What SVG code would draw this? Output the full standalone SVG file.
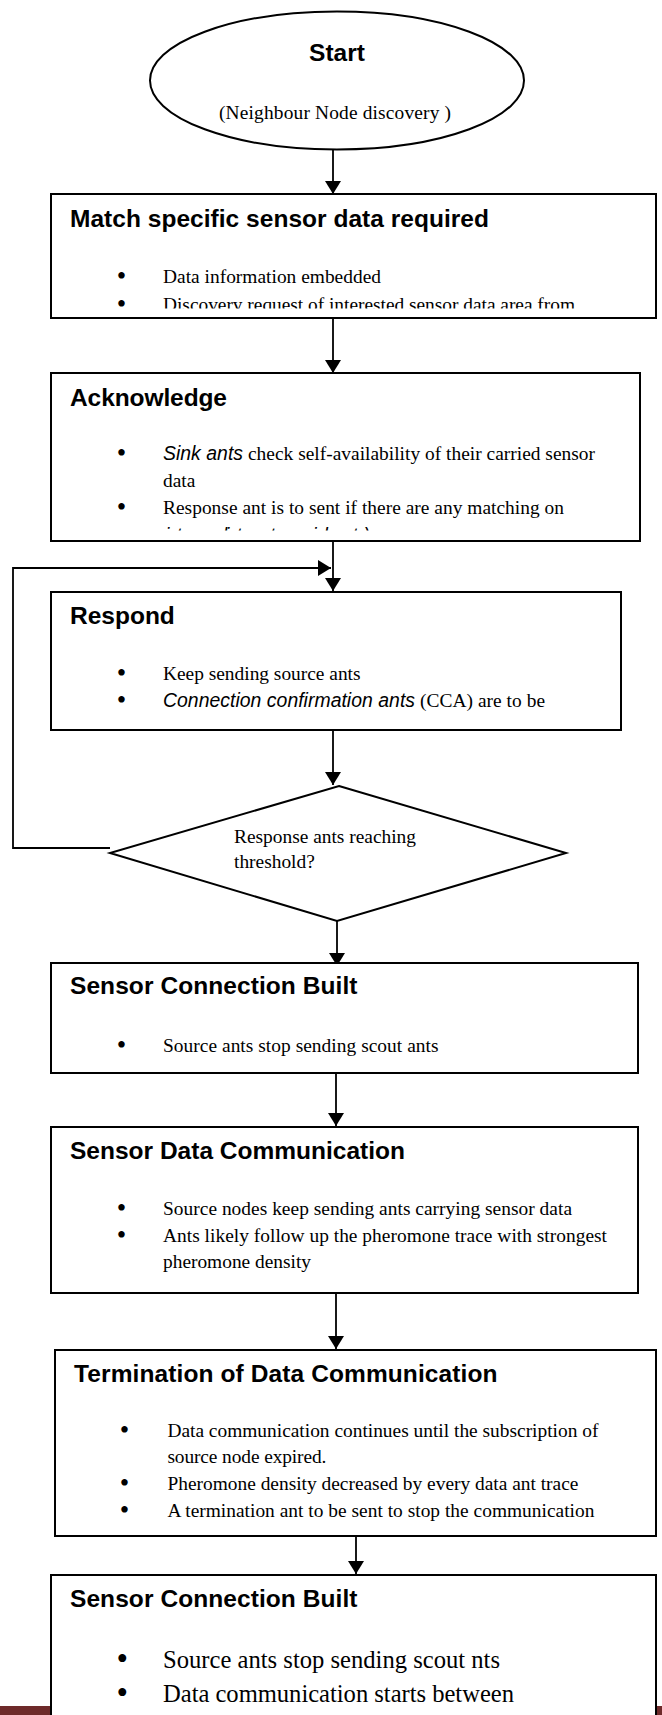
<svg xmlns="http://www.w3.org/2000/svg" width="662" height="1715" viewBox="0 0 662 1715">
  <style>
    .shape { fill: #ffffff; stroke: #000000; stroke-width: 2; }
    .title { font-family: "Liberation Sans", Arial, sans-serif; font-weight: bold; font-size: 24.5px; fill: #000; }
    .body { font-family: "Liberation Serif", "Times New Roman", serif; font-size: 19.4px; fill: #000; }
    .big { font-family: "Liberation Serif", "Times New Roman", serif; font-size: 24.6px; fill: #000; }
    .isans { font-family: "Liberation Sans", Arial, sans-serif; font-style: italic; font-size: 19.4px; fill: #000; }
    .bul { font-family: "Liberation Serif", "Times New Roman", serif; font-size: 27px; text-anchor: middle; fill: #000; }
    .bul-big { font-family: "Liberation Serif", "Times New Roman", serif; font-size: 33px; text-anchor: middle; fill: #000; }
    .link { fill: none; stroke: #000000; stroke-width: 1.8; marker-end: url(#arrow); }
  </style>
  <defs>
    <marker id="arrow" viewBox="0 0 13 16" refX="13" refY="8" markerWidth="13" markerHeight="16" markerUnits="userSpaceOnUse" orient="auto">
      <path d="M0,0 L13,8 L0,16 z" fill="#000000"/>
    </marker>
    <clipPath id="clipMatch"><rect x="52" y="195" width="603" height="113.5"/></clipPath>
    <clipPath id="clipAck"><rect x="52" y="374" width="587" height="156.5"/></clipPath>
  </defs>

  <rect width="662" height="1715" fill="#ffffff"/>
  <!-- page footer rule -->
  <rect x="0" y="1706" width="662" height="9" fill="#6e2a2a"/>

  <g id="connectors">
    <path class="link" d="M333,150 V194"/>
    <path class="link" d="M333,318 V373"/>
    <path class="link" d="M333,541 V591"/>
    <path class="link" d="M110,848 H13 V568 H331"/>
    <path class="link" d="M333,730 V785"/>
    <path class="link" d="M337,921 V966"/>
    <path class="link" d="M336,1073 V1126"/>
    <path class="link" d="M336,1293 V1349"/>
    <path class="link" d="M356,1536 V1574"/>
  </g>

  <g id="start">
    <ellipse class="shape" cx="337" cy="80.5" rx="187" ry="69"/>
    <text class="title" x="337" y="61" text-anchor="middle">Start</text>
    <text class="body" x="219" y="119" textLength="232">(Neighbour Node discovery )</text>
  </g>

  <g id="match">
    <rect class="shape" x="51" y="194" width="605" height="124"/>
    <text class="title" x="70" y="227" textLength="419">Match specific sensor data required</text>
    <text class="bul" x="121.5" y="285">•</text>
    <text class="body" x="163" y="283" textLength="218">Data information embedded</text>
    <text class="bul" x="121.5" y="312.5">•</text>
    <g clip-path="url(#clipMatch)">
      <text class="body" x="163" y="310.5" textLength="412">Discovery request of interested sensor data area from</text>
    </g>
  </g>

  <g id="acknowledge">
    <rect class="shape" x="51" y="373" width="589" height="168"/>
    <text class="title" x="70" y="406" textLength="157">Acknowledge</text>
    <text class="bul" x="121.5" y="462">•</text>
    <text class="isans" x="163" y="460" textLength="80">Sink ants</text>
    <text class="body" x="248" y="460" textLength="347">check self-availability of their carried sensor</text>
    <text class="body" x="163" y="487">data</text>
    <text class="bul" x="121.5" y="516">•</text>
    <text class="body" x="163" y="514" textLength="401">Response ant is to sent if there are any matching on</text>
    <g clip-path="url(#clipAck)">
      <text class="isans" x="165" y="542" textLength="205">intermediate ants as sink ants)</text>
    </g>
  </g>

  <g id="respond">
    <rect class="shape" x="51" y="592" width="570" height="138"/>
    <text class="title" x="70" y="624">Respond</text>
    <text class="bul" x="121.5" y="682">•</text>
    <text class="body" x="163" y="680" textLength="197.5">Keep sending source ants</text>
    <text class="bul" x="121.5" y="709">•</text>
    <text class="isans" x="163" y="707" textLength="252">Connection confirmation ants</text>
    <text class="body" x="420" y="707" textLength="125">(CCA) are to be</text>
  </g>

  <g id="threshold">
    <polygon class="shape" points="339,786 566,853 337,921 110,853"/>
    <text class="body" x="234" y="843" textLength="182">Response ants reaching</text>
    <text class="body" x="234" y="868">threshold?</text>
  </g>

  <g id="connection-built">
    <rect class="shape" x="51" y="963" width="587" height="110"/>
    <text class="title" x="70" y="994" textLength="287.5">Sensor Connection Built</text>
    <text class="bul" x="121.5" y="1054">•</text>
    <text class="body" x="163" y="1052" textLength="275.5">Source ants stop sending scout ants</text>
  </g>

  <g id="data-communication">
    <rect class="shape" x="51" y="1127" width="587" height="166"/>
    <text class="title" x="70" y="1159" textLength="335">Sensor Data Communication</text>
    <text class="bul" x="121.5" y="1217">•</text>
    <text class="body" x="163" y="1215" textLength="409">Source nodes keep sending ants carrying sensor data</text>
    <text class="bul" x="121.5" y="1244">•</text>
    <text class="body" x="163" y="1242" textLength="444">Ants likely follow up the pheromone trace with strongest</text>
    <text class="body" x="163" y="1268" textLength="148">pheromone density</text>
  </g>

  <g id="termination">
    <rect class="shape" x="55" y="1350" width="601" height="186"/>
    <text class="title" x="74" y="1382" textLength="423.5">Termination of Data Communication</text>
    <text class="bul" x="124.4" y="1439">•</text>
    <text class="body" x="167.4" y="1437" textLength="431">Data communication continues until the subscription of</text>
    <text class="body" x="167.4" y="1463" textLength="159">source node expired.</text>
    <text class="bul" x="124.4" y="1492">•</text>
    <text class="body" x="167.4" y="1490" textLength="411">Pheromone density decreased by every data ant trace</text>
    <text class="bul" x="124.4" y="1519">•</text>
    <text class="body" x="167.4" y="1517" textLength="427">A termination ant to be sent to stop the communication</text>
  </g>

  <g id="connection-built-2">
    <rect class="shape" x="51" y="1575" width="605" height="160"/>
    <text class="title" x="70" y="1607" textLength="287.5">Sensor Connection Built</text>
    <text class="bul-big" x="122.3" y="1670">•</text>
    <text class="big" x="163" y="1668" textLength="337">Source ants stop sending scout nts</text>
    <text class="bul-big" x="122.3" y="1704">•</text>
    <text class="big" x="163" y="1702" textLength="351">Data communication starts between</text>
  </g>
</svg>
